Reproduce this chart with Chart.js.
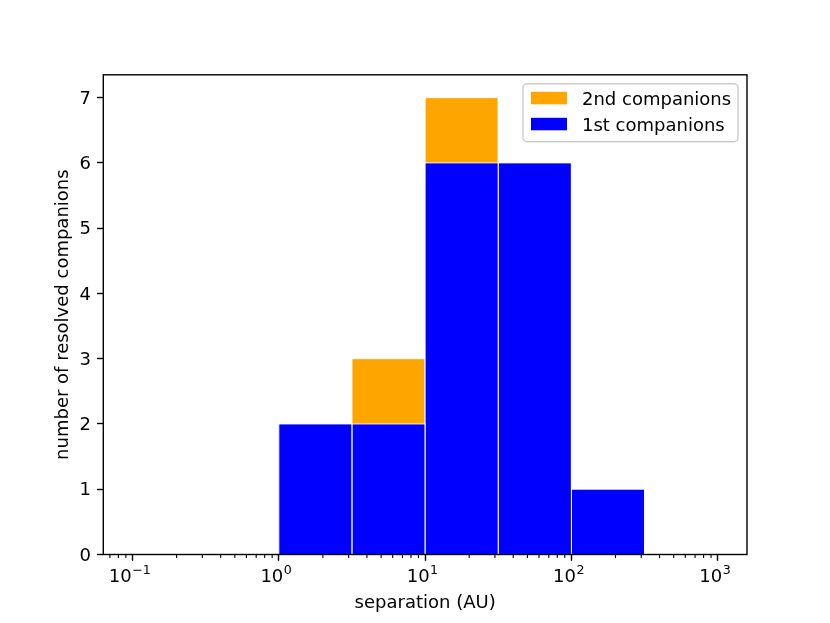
<!DOCTYPE html>
<html>
<head>
<meta charset="utf-8">
<script src="https://cdn.jsdelivr.net/npm/chart.js@4.4.1/dist/chart.umd.min.js"></script>
<style>
  body { margin: 0; background: #fff; }
  .wrap { width: 830px; height: 623px; position: relative; }
</style>
</head>
<body>
<div class="wrap"><canvas id="hist"></canvas></div>
<script>
// histogram bins, log10 of the edges (AU)
const binEdgeExp = [-1, -0.5, 0, 0.5, 1, 1.5, 2, 2.5, 3];
const firstCompanions = [0, 0, 2, 2, 6, 6, 1, 0];
const secondCompanions = [0, 0, 0, 1, 1, 0, 0, 0];

const seriesLabels = ["2nd companions", "1st companions"];
const seriesColors = ["#ffa500", "#0000ff"];

const xTickExp = [-1, 0, 1, 2, 3];
const yTicks = [0, 1, 2, 3, 4, 5, 6, 7];

const FONT = '"DejaVu Sans", "Liberation Sans", sans-serif';

// outline of a histogram as points, so the fill sits on the real axes
function stepOutline(counts) {
    const pts = [];
    counts.forEach((c, i) => {
        const lo = Math.pow(10, binEdgeExp[i]);
        const hi = Math.pow(10, binEdgeExp[i + 1]);
        pts.push({x: lo, y: 0}, {x: lo, y: c}, {x: hi, y: c}, {x: hi, y: 0});
    });
    return pts;
}

const stackedTop = firstCompanions.map((v, i) => v + secondCompanions[i]);

const decorPlugin = {
    id: "decor",
    afterDraw(chart) {
        const ctx = chart.ctx;
        const ca = chart.chartArea;
        const xs = chart.scales.x;
        ctx.save();

        // spines
        ctx.strokeStyle = "#000";
        ctx.lineWidth = 1.4;
        ctx.strokeRect(ca.left, ca.top, ca.right - ca.left, ca.bottom - ca.top);

        // minor ticks of the log axis
        ctx.lineWidth = 1.1;
        for (let k = -2; k <= 3; k++) {
            for (let m = 2; m <= 9; m++) {
                const v = m * Math.pow(10, k);
                if (v < xs.min || v > xs.max) continue;
                const px = xs.getPixelForValue(v);
                ctx.beginPath();
                ctx.moveTo(px, ca.bottom);
                ctx.lineTo(px, ca.bottom + 3.6);
                ctx.stroke();
            }
        }

        // 10^n labels
        ctx.fillStyle = "#000";
        ctx.textBaseline = "alphabetic";
        ctx.textAlign = "left";
        xTickExp.forEach(e => {
            const px = xs.getPixelForValue(Math.pow(10, e));
            const sup = e < 0 ? "\u2212" + Math.abs(e) : String(e);
            ctx.font = "18px " + FONT;
            const w1 = ctx.measureText("10").width;
            ctx.font = "12.6px " + FONT;
            const w2 = ctx.measureText(sup).width;
            const start = px - (w1 + w2) / 2 - 3;
            ctx.font = "18px " + FONT;
            ctx.fillText("10", start, ca.bottom + 27.5);
            ctx.font = "12.6px " + FONT;
            ctx.fillText(sup, start + w1 + 0.5, ca.bottom + 19.5);
        });

        // legend box
        const bw = 215, bh = 58;
        const bx = ca.right - 9 - bw, by = ca.top + 9;
        ctx.beginPath();
        ctx.roundRect(bx, by, bw, bh, 4);
        ctx.fillStyle = "rgba(255,255,255,0.8)";
        ctx.fill();
        ctx.strokeStyle = "#cccccc";
        ctx.lineWidth = 1.4;
        ctx.stroke();
        ctx.font = "18px " + FONT;
        seriesLabels.forEach((lab, i) => {
            const ry = by + 8 + i * 26;
            ctx.fillStyle = seriesColors[i];
            ctx.fillRect(bx + 8, ry, 36, 12.5);
            ctx.fillStyle = "#000";
            ctx.fillText(lab, bx + 59, ry + 13);
        });

        ctx.restore();
    }
};

new Chart(document.getElementById("hist"), {
    type: "line",
    data: {
        datasets: [{
            label: seriesLabels[1],
            data: stepOutline(firstCompanions),
            backgroundColor: seriesColors[1],
            borderColor: "rgba(255,255,255,0.85)",
            borderWidth: 1,
            fill: "origin",
            pointRadius: 0,
            tension: 0
        }, {
            label: seriesLabels[0],
            data: stepOutline(stackedTop),
            backgroundColor: seriesColors[0],
            borderColor: "rgba(255,255,255,0.85)",
            borderWidth: 1,
            fill: "origin",
            pointRadius: 0,
            tension: 0
        }]
    },
    options: {
        responsive: true,
        maintainAspectRatio: false,
        animation: false,
        layout: {padding: {top: 74.8, right: 83, left: 0, bottom: 0}},
        plugins: {
            legend: {display: false},
            tooltip: {enabled: false}
        },
        scales: {
            x: {
                type: "logarithmic",
                min: Math.pow(10, -1.2),
                max: Math.pow(10, 3.2),
                afterBuildTicks: s => { s.ticks = xTickExp.map(e => ({value: Math.pow(10, e)})); },
                afterFit: s => { s.height = 68.5; },
                ticks: {display: false},
                grid: {drawOnChartArea: false, drawTicks: true, tickLength: 6.3, tickWidth: 1.4, tickColor: "#000"},
                border: {display: false},
                title: {
                    display: true,
                    text: "separation (AU)",
                    color: "#000",
                    font: {family: FONT, size: 18},
                    padding: {top: 0, bottom: 9}
                }
            },
            y: {
                type: "linear",
                min: 0,
                max: 7.35,
                afterBuildTicks: s => { s.ticks = yTicks.map(v => ({value: v})); },
                afterFit: s => { s.width = 103.3; },
                ticks: {color: "#000", font: {family: FONT, size: 18}, padding: 6, labelOffset: 1.5},
                grid: {drawOnChartArea: false, drawTicks: true, tickLength: 6.3, tickWidth: 1.4, tickColor: "#000"},
                border: {display: false},
                title: {
                    display: true,
                    text: "number of resolved companions",
                    color: "#000",
                    font: {family: FONT, size: 18},
                    padding: {top: 53, bottom: 0}
                }
            }
        }
    },
    plugins: [decorPlugin]
});
</script>
</body>
</html>
